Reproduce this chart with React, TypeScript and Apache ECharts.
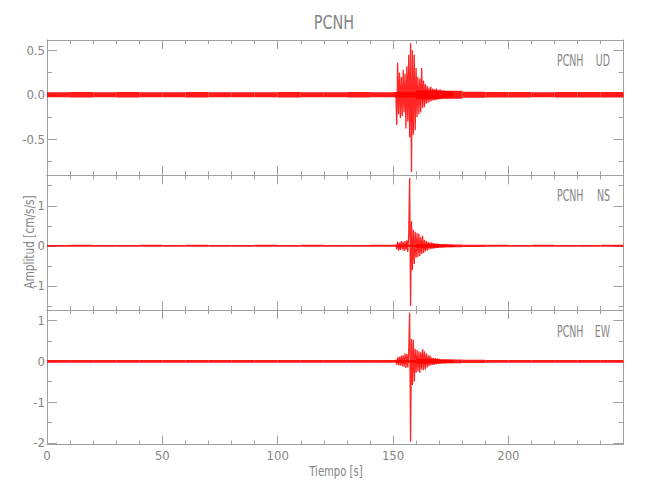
import React, { useEffect, useRef } from "react";
import * as echarts from "echarts";

const stationName = "PCNH";
const channels = ["UD", "NS", "EW"];
const xAxisTitle = "Tiempo [s]";
const yAxisTitle = "Amplitud [cm/s/s]";
const xMin = 0;
const xMax = 249.9;
const xInterval = 50;

const panelMin = [-0.906, -1.6, -2.04];
const panelMax = [0.616, 1.76, 1.26];
const udMajor = [-0.5, 0, 0.5];
const udMinor = [-0.75, -0.25, 0.25];
const nsMajor = [-1, 0, 1];
const nsMinor = [-1.5, -0.5, 0.5, 1.5];
const ewMajor = [-2, -1, 0, 1];
const ewMinor = [-1.5, -0.5, 0.5];

// background noise: half-amplitude of the trace band per 10 s bin
const noiseBinStart = [0, 10, 20, 30, 40, 50, 60, 70, 80, 90, 100, 110, 120, 130, 140, 150, 160, 170, 180, 190, 200, 210, 220, 230, 240];
const udNoise = [0.029, 0.03, 0.028, 0.03, 0.028, 0.029, 0.03, 0.028, 0.029, 0.028, 0.03, 0.029, 0.028, 0.03, 0.029, 0.03, 0.05, 0.045, 0.034, 0.03, 0.03, 0.029, 0.03, 0.031, 0.03];
const nsNoise = [0.024, 0.025, 0.024, 0.023, 0.025, 0.024, 0.025, 0.024, 0.023, 0.025, 0.024, 0.025, 0.023, 0.024, 0.025, 0.025, 0.045, 0.035, 0.028, 0.025, 0.024, 0.025, 0.023, 0.024, 0.025];
const ewNoise = [0.033, 0.034, 0.032, 0.034, 0.033, 0.034, 0.032, 0.033, 0.034, 0.033, 0.034, 0.032, 0.033, 0.034, 0.033, 0.034, 0.055, 0.045, 0.04, 0.034, 0.033, 0.034, 0.033, 0.034, 0.033];

// event: successive peak values, one every 0.4 s from 151.2 s
const eventStart = 151.2;
const eventStep = 0.4;
const udEvent = [0.03, -0.34, 0.36, -0.22, 0.25, -0.26, 0.2, -0.24, 0.28, -0.2, 0.24, -0.38, 0.32, -0.3, 0.45, -0.48, 0.58, -0.87, 0.5, -0.45, 0.45, -0.4, 0.3, -0.25, 0.2, -0.22, 0.18, -0.2, 0.3, -0.15, 0.16, -0.14, 0.12, -0.1, 0.1, -0.09, 0.08, -0.08, 0.09, -0.07, 0.07, -0.06, 0.06, -0.06, 0.07, -0.05, 0.05, -0.05, 0.06, -0.05, 0.05, -0.04, 0.05, -0.04, 0.04, -0.04, 0.04, -0.04, 0.04, -0.03, 0.04, -0.03, 0.03];
const nsEvent = [0.03, -0.08, 0.1, -0.12, 0.08, -0.1, 0.12, -0.09, 0.1, -0.13, 0.12, -0.1, 0.14, -0.15, 0.3, 1.69, -1.5, 0.62, -0.6, 0.4, -0.45, 0.35, -0.3, 0.32, -0.28, 0.3, -0.25, 0.22, -0.2, 0.25, -0.18, 0.15, -0.14, 0.12, -0.12, 0.1, -0.09, 0.09, -0.08, 0.08, -0.07, 0.07, -0.06, 0.06, -0.05, 0.05, -0.05, 0.05, -0.04, 0.04, -0.04, 0.04, -0.04, 0.04, -0.03, 0.04, -0.03, 0.03, -0.03, 0.03, -0.03, 0.03, -0.03];
const ewEvent = [0.04, -0.08, 0.1, -0.1, 0.12, -0.1, 0.14, -0.12, 0.15, -0.14, 0.2, -0.16, 0.18, -0.15, 0.25, 1.19, -1.97, 0.55, -0.58, 0.53, -0.5, 0.3, -0.28, 0.28, -0.25, 0.25, -0.28, 0.22, -0.2, 0.3, -0.22, 0.25, -0.2, 0.2, -0.15, 0.15, -0.12, 0.14, -0.1, 0.1, -0.09, 0.08, -0.08, 0.08, -0.07, 0.07, -0.06, 0.06, -0.06, 0.05, -0.05, 0.05, -0.05, 0.05, -0.04, 0.05, -0.04, 0.04, -0.04, 0.04, -0.04, 0.04, -0.04];

const FONT = "'DejaVu Sans Condensed', 'Liberation Sans Narrow', 'Roboto', sans-serif";
const AXIS_COLOR = "#a0a0a0";
const TEXT_COLOR = "#858585";
const TRACE = "#ff0000";

export default function App() {
  const ref = useRef<HTMLDivElement>(null);
  useEffect(() => {
    if (!ref.current) return;
    const chart = echarts.init(ref.current, undefined, { renderer: "svg" });
    const gridTops = [40, 175.3, 310];
    const gridHeights = [135.3, 134.7, 134.5];
    const majors = [udMajor, nsMajor, ewMajor];
    const minors = [udMinor, nsMinor, ewMinor];
    const noises = [udNoise, nsNoise, ewNoise];
    const events = [udEvent, nsEvent, ewEvent];

    const grids: any[] = [];
    const xAxes: any[] = [];
    const yAxes: any[] = [];
    const series: any[] = [];
    const lineStyle = { color: AXIS_COLOR, width: 1 };

    for (let i = 0; i < 3; i++) {
      grids.push({ left: 47, right: 26.5, top: gridTops[i], height: gridHeights[i] });
      for (const pos of ["bottom", "top"]) {
        xAxes.push({
          type: "value",
          gridIndex: i,
          position: pos,
          min: xMin,
          max: xMax,
          interval: xInterval,
          axisLine: { show: true, onZero: false, lineStyle },
          axisTick: { show: true, inside: true, length: 9, lineStyle },
          minorTick: { show: true, splitNumber: 5, length: 4, lineStyle },
          splitLine: { show: false },
          minorSplitLine: { show: false },
          axisLabel: {
            show: i === 2 && pos === "bottom",
            showMaxLabel: false,
            margin: 4,
            color: TEXT_COLOR,
            fontFamily: FONT,
            fontSize: 13,
          },
        });
      }
      for (const pos of ["left", "right"]) {
        yAxes.push({
          type: "value",
          gridIndex: i,
          position: pos,
          min: panelMin[i],
          max: panelMax[i],
          axisLine: { show: true, onZero: false, lineStyle },
          axisTick: { show: true, inside: true, length: 10, lineStyle, customValues: majors[i] },
          splitLine: { show: false },
          axisLabel: {
            show: pos === "left",
            customValues: majors[i],
            margin: 2,
            color: TEXT_COLOR,
            fontFamily: FONT,
            fontSize: 13,
            formatter: (v: number) => (i === 0 ? v.toFixed(1) : String(Math.round(v))),
          },
        });
        yAxes.push({
          type: "value",
          gridIndex: i,
          position: pos,
          min: panelMin[i],
          max: panelMax[i],
          axisLine: { show: false, onZero: false },
          axisTick: { show: true, inside: true, length: 5, lineStyle, customValues: minors[i] },
          splitLine: { show: false },
          axisLabel: { show: false },
        });
      }
      const amp = noises[i];
      series.push({
        type: "custom",
        xAxisIndex: 2 * i,
        yAxisIndex: 4 * i,
        silent: true,
        clip: true,
        encode: { x: [0, 1], y: 2 },
        data: noiseBinStart.map((s, k) => [s, k + 1 < noiseBinStart.length ? noiseBinStart[k + 1] : xMax, amp[k]]),
        renderItem: (_p: any, api: any) => {
          const a = api.coord([api.value(0), api.value(2)]);
          const b = api.coord([api.value(1), -api.value(2)]);
          return {
            type: "rect",
            shape: { x: a[0], y: a[1], width: b[0] - a[0], height: b[1] - a[1] },
            style: { fill: TRACE, opacity: 0.9 },
          };
        },
        z: 2,
      });
      series.push({
        type: "line",
        xAxisIndex: 2 * i,
        yAxisIndex: 4 * i,
        showSymbol: false,
        silent: true,
        data: events[i].map((v, k) => [eventStart + k * eventStep, v]),
        lineStyle: { color: TRACE, width: 1.3, opacity: 0.85 },
        z: 3,
      });
    }

    const labelYs = [61, 196, 331.5];
    const graphics: any[] = [
      {
        type: "text",
        x: 334,
        y: 22,
        scaleX: 0.8,
        style: { text: stationName, fill: TEXT_COLOR, font: `20px ${FONT}`, align: "center", verticalAlign: "middle" },
      },
      {
        type: "text",
        x: 336,
        y: 471,
        scaleX: 0.8,
        style: { text: xAxisTitle, fill: TEXT_COLOR, font: `14px ${FONT}`, align: "center", verticalAlign: "middle" },
      },
      {
        type: "text",
        x: 29,
        y: 242,
        rotation: Math.PI / 2,
        scaleX: 0.84,
        style: { text: yAxisTitle, fill: TEXT_COLOR, font: `14px ${FONT}`, align: "center", verticalAlign: "middle" },
      },
    ];
    for (let i = 0; i < 3; i++) {
      graphics.push({
        type: "text",
        x: 557,
        y: labelYs[i],
        scaleX: 0.7,
        style: { text: stationName, fill: TEXT_COLOR, font: `15px ${FONT}`, align: "left", verticalAlign: "middle" },
      });
      graphics.push({
        type: "text",
        x: 610,
        y: labelYs[i],
        scaleX: 0.7,
        style: { text: channels[i], fill: TEXT_COLOR, font: `15px ${FONT}`, align: "right", verticalAlign: "middle" },
      });
    }

    chart.setOption({
      animation: false,
      backgroundColor: "#ffffff",
      grid: grids,
      xAxis: xAxes,
      yAxis: yAxes,
      series,
      graphic: graphics,
    });
    return () => chart.dispose();
  }, []);
  return <div ref={ref} style={{ position: "fixed", left: 0, top: 0, width: 650, height: 500 }} />;
}
